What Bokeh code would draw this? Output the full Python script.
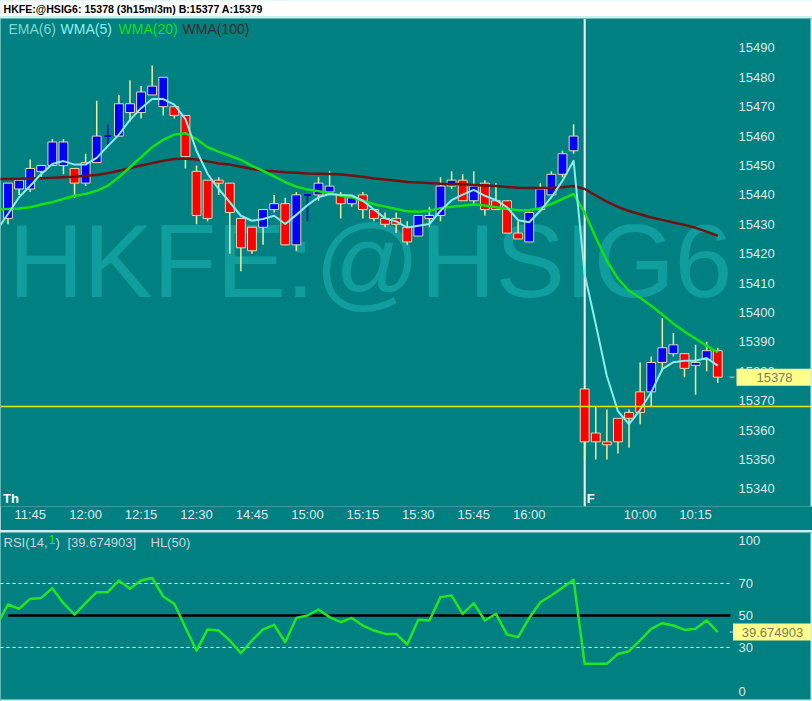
from bokeh.plotting import figure
from bokeh.models import Range1d, FixedTicker, Span, Label
from bokeh.layouts import column
from bokeh.embed import file_html
from bokeh.resources import INLINE
from bokeh.core.properties import value

# ---------------- data ----------------
bars = list(range(65))
opens = [15432, 15442, 15442, 15448, 15450, 15450, 15449, 15444, 15451, 15460,
         15460, 15468, 15468, 15474, 15470, 15470, 15467, 15448, 15445, 15445,
         15444, 15432, 15429, 15429, 15435, 15437, 15423, 15440, 15440, 15441,
         15440, 15437, 15440, 15435, 15432, 15432, 15429, 15426, 15432, 15433,
         15443, 15445, 15438, 15444, 15438, 15438, 15427, 15424, 15435, 15440,
         15447, 15455, 15374, 15359, 15356, 15364, 15366, 15373, 15373, 15383,
         15386, 15386, 15382, 15384, 15387]
highs = [15444, 15445, 15452, 15450, 15459, 15459, 15449, 15454, 15472, 15464,
         15474, 15479, 15477, 15484, 15480, 15470, 15467, 15450, 15445, 15446,
         15444, 15432, 15429, 15435, 15440, 15439, 15441, 15440, 15446, 15448,
         15441, 15440, 15441, 15435, 15434, 15434, 15431, 15433, 15436, 15446,
         15448, 15447, 15448, 15445, 15444, 15438, 15431, 15434, 15444, 15448,
         15455, 15464, 15374, 15368, 15367, 15364, 15367, 15383, 15385, 15398,
         15393, 15386, 15389, 15390, 15388]
lows = [15430, 15440, 15441, 15446, 15450, 15447, 15439, 15443, 15451, 15457,
        15460, 15465, 15466, 15474, 15467, 15466, 15449, 15430, 15431, 15440,
        15420, 15414, 15420, 15423, 15434, 15423, 15421, 15431, 15438, 15440,
        15432, 15436, 15432, 15431, 15429, 15427, 15423, 15426, 15429, 15431,
        15442, 15438, 15437, 15433, 15435, 15427, 15425, 15424, 15435, 15440,
        15446, 15454, 15350, 15350, 15350, 15352, 15354, 15362, 15368, 15380,
        15385, 15378, 15372, 15380, 15376]
closes = [15444, 15445, 15449, 15450, 15458, 15458, 15444, 15451, 15460, 15460,
          15471, 15471, 15475, 15477, 15480, 15467, 15453, 15433, 15432, 15444,
          15434, 15422, 15421, 15435, 15437, 15423, 15440, 15440, 15444, 15443,
          15437, 15439, 15435, 15432, 15430, 15430, 15424, 15433, 15433, 15443,
          15445, 15438, 15443, 15435, 15435, 15427, 15425, 15434, 15442, 15447,
          15454, 15460, 15356, 15356, 15355, 15356, 15364, 15366, 15383, 15388,
          15389, 15381, 15383, 15387, 15378]

line_bars = list(range(-1, 65))
ema6_wma5 = [15428, 15433.5, 15439.2, 15443.1, 15447.1, 15450.5, 15451.5, 15450.3, 15450.3, 15452.6,
             15456.6, 15460.5, 15465.5, 15469.5, 15472.6, 15472.6, 15470.7, 15465.8, 15455.0, 15447.1,
             15442.0, 15437.5, 15432.9, 15431.2, 15431.8, 15432.9, 15430.1, 15433.2, 15436.5, 15439.2,
             15440.3, 15440.0, 15439.8, 15438.0, 15435.0, 15432.0, 15431.0, 15428.9, 15429.5, 15430.1,
             15434.6, 15438.2, 15440.1, 15441.7, 15439.7, 15438.2, 15435.8, 15431.4, 15430.7, 15434.6,
             15439.2, 15444.8, 15451.6, 15413.0, 15396.0, 15378.4, 15366.4, 15362.0, 15366.9, 15372.8,
             15380.7, 15383.1, 15383.6, 15383.6, 15384.5, 15381.9]
wma20 = [15435.0, 15435.2, 15435.4, 15435.8, 15436.7, 15437.5, 15438.6, 15439.7, 15440.3, 15441.4,
         15443.1, 15446.0, 15449.4, 15452.8, 15456.2, 15458.7, 15460.5, 15461.0, 15459.0, 15456.2,
         15454.7, 15453.3, 15451.9, 15449.9, 15448.2, 15446.3, 15444.3, 15442.8, 15441.8, 15441.2,
         15440.6, 15439.7, 15439.2, 15438.0, 15436.8, 15436.0, 15435.2, 15434.4, 15434.3, 15434.6,
         15435.5, 15436.0, 15436.3, 15436.7, 15436.4, 15435.8, 15435.2, 15434.8, 15434.8, 15435.5,
         15436.9, 15438.6, 15440.3, 15434.0, 15425.5, 15417.6, 15411.5, 15407.4, 15405.0, 15402.3,
         15399.3, 15396.2, 15393.5, 15391.1, 15388.7, 15386.4]
wma100 = [15445.4, 15445.4, 15445.5, 15445.6, 15445.7, 15445.8, 15446.0, 15446.2, 15446.5, 15446.8,
          15447.4, 15448.2, 15449.1, 15450.0, 15450.8, 15451.6, 15452.2, 15452.4, 15452.0, 15451.4,
          15450.7, 15450.3, 15449.6, 15448.8, 15448.3, 15448.0, 15447.7, 15447.5, 15447.3, 15447.2,
          15447.1, 15446.9, 15446.6, 15446.2, 15445.6, 15445.2, 15444.8, 15444.4, 15444.2, 15444.0,
          15443.8, 15443.7, 15443.6, 15443.4, 15443.2, 15443.0, 15442.7, 15442.4, 15442.3, 15442.3,
          15442.4, 15442.6, 15443.0, 15442.0, 15439.8, 15437.7, 15435.9, 15434.5, 15433.4, 15432.3,
          15431.5, 15430.6, 15429.8, 15428.8, 15427.5, 15426.1]
rsi = [44.0, 56.9, 54.2, 60.4, 61.0, 67.1, 57.7, 50.6, 57.7, 64.6,
       64.6, 71.9, 66.7, 71.9, 73.5, 61.9, 57.3, 42.5, 28.1, 41.3,
       40.6, 34.4, 26.5, 34.4, 41.3, 44.2, 33.3, 48.5, 50.0, 53.75,
       49.0, 45.8, 48.5, 43.75, 40.6, 38.5, 38.5, 31.9, 47.3, 46.9,
       61.5, 62.5, 51.0, 57.7, 46.9, 51.0, 38.1, 36.5, 48.5, 58.3,
       62.5, 67.3, 72.3, 19.8, 19.8, 19.8, 26.0, 27.7, 34.4, 41.7,
       45.2, 43.75, 41.0, 41.7, 46.9, 39.674903]

time_tick_bars = [2, 7, 12, 17, 22, 27, 32, 37, 42, 47, 57, 62]
time_tick_labels = ["11:45", "12:00", "12:15", "12:30", "14:45", "15:00",
                    "15:15", "15:30", "15:45", "16:00", "10:00", "10:15"]
price_ticks = [15340, 15350, 15360, 15370, 15380, 15390, 15400, 15410,
               15420, 15430, 15440, 15450, 15460, 15470, 15480, 15490]
rsi_ticks = [0, 30, 50, 70, 100]
day_labels = ["Th", "F"]
day_start_bars = [0, 52]
last_price = 15378
bid, ask = 15377, 15379
ref_level = 15368
rsi_last = 39.674903
rsi_bands = [30, 70]
hl_level = 50
symbol = "HKFE:@HSIG6"

# ---------------- layout constants ----------------
TEAL = "#008080"
LIGHT = "#dde9e9"
EDGE_LIGHT = "#cdeeee"
FONT = "Liberation Sans"
FONT_V = value(FONT)
BLUE, RED = "#0000ff", "#ff0000"
WICK = "#eeeea0"
EDGE = "#e4dcae"
TAG_FILL, TAG_TEXT = "#ffff8c", "#7c7c58"
W, TITLE_H, MAIN_H, RSI_H = 812, 16, 512, 169
BAR0_PX, BAR_PX = 7.5, 11.09          # pixel of first bar centre, pixels per bar


def to_x(px):
    """convert a horizontal pixel position to bar units (layout helper)"""
    return (px - BAR0_PX) / BAR_PX


X0, XE = to_x(0), to_x(W)
PLOT_END = to_x(730)      # right end of the plotting area (start of price scale)
SCALE_X = to_x(738)       # left edge of price scale labels


def label(fig, text, x, y, xo=0, yo=0, color=LIGHT, size="13px", baseline="top",
          align="left", bold=False, **kw):
    lb = Label(x=x, y=y, x_offset=xo, y_offset=yo, text=text, text_color=color,
               text_font_size=size, text_font=FONT, text_baseline=baseline,
               text_align=align, text_font_style="bold" if bold else "normal", **kw)
    fig.add_layout(lb)
    return lb


def scale_labels(fig, ticks, baseline):
    fig.text(x=[SCALE_X] * len(ticks), y=ticks, text=[str(t) for t in ticks],
             text_color=LIGHT, text_font=FONT_V, text_font_size="13px",
             text_baseline=baseline, text_align="left")


def price_tag(fig, y, text, center_px, width_px):
    fig.rect(x=[to_x(center_px)], y=[y], width=width_px, height=17,
             width_units="screen", height_units="screen",
             fill_color=TAG_FILL, line_color=None)
    fig.segment(x0=[to_x(729)], y0=[y], x1=[to_x(734)], y1=[y],
                line_color="#c8d8d8", line_width=1)
    fig.text(x=[to_x(center_px)], y=[y], text=[text], text_color=TAG_TEXT,
             text_font=FONT_V, text_font_size="13px", text_baseline="middle",
             text_align="center")


def legend_row(fig, y, items, size):
    texts = [t for t, _, _ in items]
    fig.text(x=[X0] * len(items), y=[y] * len(items), text=texts,
             text_color=[c for _, c, _ in items], x_offset=[o for _, _, o in items],
             y_offset=2, text_font=FONT_V, text_font_size=size,
             text_baseline="top", text_align="left")


# ---------------- title bar ----------------
tfig = figure(width=W, height=TITLE_H, x_range=Range1d(0, 1), y_range=Range1d(0, 1),
              output_backend="svg", toolbar_location=None, x_axis_location=None,
              y_axis_location=None, min_border=0, background_fill_color="white",
              border_fill_color="white", outline_line_color=None)
tfig.grid.visible = False
label(tfig, f"{symbol}: {last_price} (3h15m/3m)  B:{bid} A:{ask}", 0, 0.5, xo=3,
      color="black", size="10.6px", baseline="middle", bold=True)

# ---------------- main price panel ----------------
main = figure(width=W, height=MAIN_H, x_range=Range1d(X0, XE),
              y_range=Range1d(15334, 15500), output_backend="svg",
              toolbar_location=None, y_axis_location=None,
              min_border_left=0, min_border_right=0, min_border_top=0,
              min_border_bottom=24, background_fill_color=TEAL,
              border_fill_color=TEAL, outline_line_color=None)
main.grid.visible = False
xa = main.xaxis[0]
xa.axis_line_color = None
xa.major_tick_line_color = None
xa.minor_tick_line_color = None
xa.major_tick_out = 0
xa.major_label_text_color = LIGHT
xa.major_label_text_font = FONT
xa.major_label_text_font_size = "13px"
xa.ticker = FixedTicker(ticks=time_tick_bars)
xa.major_label_overrides = {b: t for b, t in zip(time_tick_bars, time_tick_labels)}
xa.major_label_standoff = 0

# watermark
label(main, symbol, X0, 15417.6, xo=8, color="#0f9d9d", size="104px",
      baseline="alphabetic", level="underlay")

# day break line
main.add_layout(Span(location=day_start_bars[1], dimension="height",
                     line_color="white", line_width=2, level="underlay"))

# candles
up_dn = [i for i in bars if opens[i] != closes[i]]
doji = [i for i in bars if opens[i] == closes[i]]
main.segment(x0=[bars[i] for i in up_dn], y0=[lows[i] for i in up_dn],
             x1=[bars[i] for i in up_dn], y1=[highs[i] for i in up_dn],
             line_color=WICK, line_width=1.5)
main.vbar(x=[bars[i] for i in up_dn], width=0.8,
          top=[max(opens[i], closes[i]) for i in up_dn],
          bottom=[min(opens[i], closes[i]) for i in up_dn],
          fill_color=[BLUE if closes[i] > opens[i] else RED for i in up_dn],
          line_color=EDGE, line_width=1)
main.segment(x0=[bars[i] for i in doji], y0=[lows[i] for i in doji],
             x1=[bars[i] for i in doji], y1=[highs[i] for i in doji],
             line_color="#0000cc", line_width=1.5)
main.segment(x0=[bars[i] - 0.3 for i in doji], y0=[opens[i] for i in doji],
             x1=[bars[i] + 0.3 for i in doji], y1=[closes[i] for i in doji],
             line_color="#0000cc", line_width=2)

# indicator lines
main.line(line_bars, wma100, line_color="#701212", line_width=2.5, line_join="round")
main.line(line_bars, wma20, line_color="#14e014", line_width=2.5, line_join="round")
main.line(line_bars, ema6_wma5, line_color="#8cecec", line_width=2, line_join="round")

# reference line
main.add_layout(Span(location=ref_level, dimension="width", line_color="#e8e800",
                     line_width=1.5))

# price scale (right)
scale_labels(main, price_ticks, "middle")
price_tag(main, last_price, str(last_price), 774, 76)

# right light edge
main.add_layout(Span(location=to_x(811), dimension="height", line_color=EDGE_LIGHT,
                     line_width=2))

# legend
legend_row(main, 15500, [("EMA(6)", "#7fd6d6", 8), ("WMA(5)", "#8cf0f0", 60),
                         ("WMA(20)", "#14e014", 118), ("WMA(100)", "#3c2a2a", 182)],
           "14px")

# day labels
label(main, day_labels[0], day_start_bars[0], 15334, xo=-5, yo=1, color="white",
      size="13px", baseline="bottom", bold=True)
label(main, day_labels[1], day_start_bars[1], 15334, xo=2, yo=1, color="white",
      size="13px", baseline="bottom", bold=True)

# ---------------- RSI panel ----------------
RSI_LO, RSI_HI = -3.75, 101.9
rfig = figure(width=W, height=RSI_H, x_range=main.x_range, y_range=Range1d(RSI_LO, RSI_HI),
              output_backend="svg", toolbar_location=None, x_axis_location=None,
              y_axis_location=None, min_border=0, background_fill_color=TEAL,
              border_fill_color=TEAL, outline_line_color=None)
rfig.grid.visible = False

rfig.segment(x0=[X0] * len(rsi_bands), y0=rsi_bands, x1=[PLOT_END] * len(rsi_bands),
             y1=rsi_bands, line_color="white", line_width=1, line_dash="3 3")
rfig.segment(x0=[bars[0]], y0=[hl_level], x1=[PLOT_END], y1=[hl_level],
             line_color="black", line_width=2.5)
rfig.line(line_bars, rsi, line_color="#22e622", line_width=2.5, line_join="round")

scale_labels(rfig, [t for t in rsi_ticks if 0 < t < 100], "middle")
scale_labels(rfig, [max(rsi_ticks)], "top")
scale_labels(rfig, [min(rsi_ticks)], "bottom")
price_tag(rfig, rsi_last, f"{rsi_last:.6f}", 772, 79)

rfig.add_layout(Span(location=to_x(811), dimension="height", line_color=EDGE_LIGHT,
                     line_width=2))
rfig.add_layout(Span(location=RSI_LO + 0.6, dimension="width", line_color=EDGE_LIGHT,
                     line_width=2))

legend_row(rfig, RSI_HI, [("RSI(14,", "#c8d6d6", 3), ("1", "#22e622", 48),
                          (")", "#c8d6d6", 55), (f"[{rsi_last:.6f}]", "#c8d6d6", 67),
                          (f"HL({hl_level})", "#c8d6d6", 150)], "13px")

layout = column(tfig, main, rfig, spacing=2,
                styles={"background-color": EDGE_LIGHT})

open("out.html", "w").write(file_html(layout, INLINE))
